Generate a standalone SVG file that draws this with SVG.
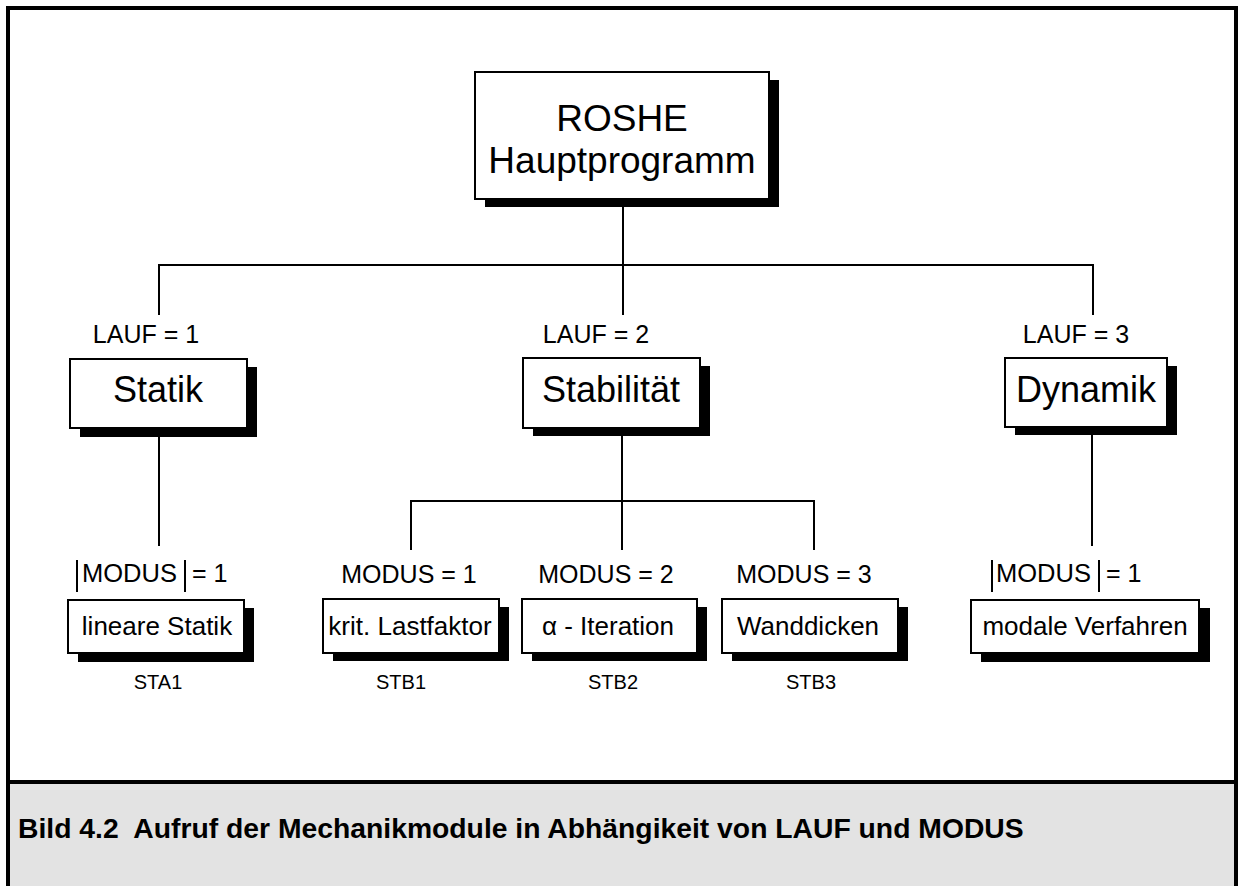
<svg xmlns="http://www.w3.org/2000/svg" width="1239" height="886" viewBox="0 0 1239 886">
  <style>
    text { font-family: "Liberation Sans", Arial, sans-serif; fill: #000; }
    .box { fill: #fff; stroke: #000; stroke-width: 2; }
    .shadow { fill: #000; }
    .wire { fill: none; stroke: #000; stroke-width: 2; }
    .big { font-size: 36px; text-anchor: middle; }
    .mid { font-size: 26px; text-anchor: middle; }
    .lbl { font-size: 25px; text-anchor: middle; }
    .code { font-size: 20px; text-anchor: middle; }
    .cap { font-size: 28.3px; font-weight: bold; }
  </style>

  <!-- frame and caption band -->
  <rect x="0" y="0" width="1239" height="886" fill="#fff"/>
  <rect x="10" y="784" width="1224" height="110" fill="#e3e3e3"/>
  <rect x="8" y="8" width="1228" height="890" fill="none" stroke="#000" stroke-width="4"/>
  <line x1="8" y1="782" x2="1236" y2="782" stroke="#000" stroke-width="4"/>
  <text class="cap" x="18" y="838" xml:space="preserve">Bild 4.2  Aufruf der Mechanikmodule in Abhängikeit von LAUF und MODUS</text>

  <!-- connectors -->
  <g id="connectors">
    <path class="wire" d="M623 199 V315 M159 315 V265 H1093 V315"/>
    <path class="wire" d="M622 428 V550 M411 550 V501 H814 V550"/>
    <path class="wire" d="M159 436 V546"/>
    <path class="wire" d="M1092 435 V546"/>
  </g>

  <!-- level labels -->
  <g id="labels">
    <text class="lbl" x="146" y="343">LAUF = 1</text>
    <text class="lbl" x="596" y="343">LAUF = 2</text>
    <text class="lbl" x="1076" y="343">LAUF = 3</text>

    <line x1="77" y1="560" x2="77" y2="592" stroke="#000" stroke-width="2"/>
    <text x="82" y="582" font-size="25.5">MODUS</text>
    <line x1="185" y1="560" x2="185" y2="592" stroke="#000" stroke-width="2"/>
    <text x="192" y="582" font-size="25">= 1</text>

    <text class="lbl" x="409" y="583">MODUS = 1</text>
    <text class="lbl" x="606" y="583">MODUS = 2</text>
    <text class="lbl" x="804" y="583">MODUS = 3</text>

    <line x1="992" y1="560" x2="992" y2="592" stroke="#000" stroke-width="2"/>
    <text x="996" y="582" font-size="25.5">MODUS</text>
    <line x1="1099" y1="560" x2="1099" y2="592" stroke="#000" stroke-width="2"/>
    <text x="1106" y="582" font-size="25">= 1</text>

    <text class="code" x="158" y="689">STA1</text>
    <text class="code" x="401" y="689">STB1</text>
    <text class="code" x="613" y="689">STB2</text>
    <text class="code" x="811" y="689">STB3</text>
  </g>

  <!-- main program -->
  <g id="node-roshe">
    <rect class="shadow" x="485" y="80" width="294" height="127"/>
    <rect class="box" x="475" y="72" width="294" height="127"/>
    <text class="big" x="622" y="131" style="font-size:37px">ROSHE</text>
    <text class="big" x="622" y="173" style="font-size:37px">Hauptprogramm</text>
  </g>

  <!-- LAUF modules -->
  <g id="node-statik">
    <rect class="shadow" x="80" y="367" width="177" height="70"/>
    <rect class="box" x="70" y="359" width="177" height="69"/>
    <text class="big" x="158" y="402">Statik</text>
  </g>
  <g id="node-stabilitaet">
    <rect class="shadow" x="533" y="366" width="177" height="70"/>
    <rect class="box" x="523" y="358" width="177" height="70"/>
    <text class="big" x="611" y="402">Stabilität</text>
  </g>
  <g id="node-dynamik">
    <rect class="shadow" x="1015" y="366" width="162" height="69"/>
    <rect class="box" x="1005" y="358" width="162" height="69"/>
    <text class="big" x="1086" y="402">Dynamik</text>
  </g>

  <!-- MODUS modules -->
  <g id="node-sta1">
    <rect class="shadow" x="78" y="608" width="176" height="54"/>
    <rect class="box" x="68" y="600" width="176" height="53"/>
    <text class="mid" x="157" y="635">lineare Statik</text>
  </g>
  <g id="node-stb1">
    <rect class="shadow" x="333" y="607" width="176" height="54"/>
    <rect class="box" x="323" y="599" width="176" height="54"/>
    <text class="mid" x="410" y="635">krit. Lastfaktor</text>
  </g>
  <g id="node-stb2">
    <rect class="shadow" x="532" y="607" width="175" height="54"/>
    <rect class="box" x="522" y="599" width="175" height="54"/>
    <text class="mid" x="608" y="635">α - Iteration</text>
  </g>
  <g id="node-stb3">
    <rect class="shadow" x="732" y="607" width="176" height="54"/>
    <rect class="box" x="722" y="599" width="176" height="54"/>
    <text class="mid" x="808" y="635">Wanddicken</text>
  </g>
  <g id="node-dyn1">
    <rect class="shadow" x="981" y="608" width="229" height="54"/>
    <rect class="box" x="971" y="600" width="228" height="53"/>
    <text class="mid" x="1085" y="635">modale Verfahren</text>
  </g>
</svg>
